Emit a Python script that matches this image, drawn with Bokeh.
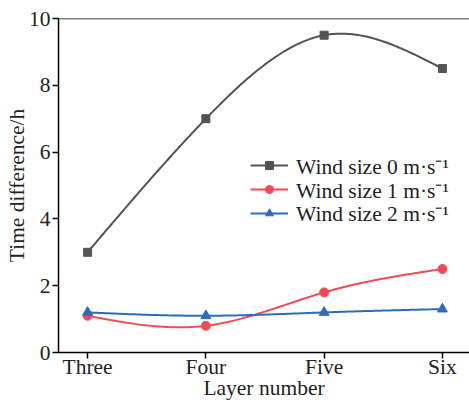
import numpy as np
from bokeh.plotting import figure
from bokeh.models import FixedTicker, Span, Legend, LegendItem
from bokeh.embed import file_html
from bokeh.resources import INLINE

categories = ["Three", "Four", "Five", "Six"]
wind0 = [3.0, 7.0, 9.5, 8.5]
wind1 = [1.1, 0.8, 1.8, 2.5]
wind2 = [1.2, 1.1, 1.2, 1.3]
labels = ["Wind size 0 m\u00b7s\u207b\u00b9", "Wind size 1 m\u00b7s\u207b\u00b9", "Wind size 2 m\u00b7s\u207b\u00b9"]
colors = ["#535353", "#EF4A55", "#2D6DB7"]
markers = ["square", "circle", "triangle"]
marker_sizes = [8, 9, 10]

FONT = "Liberation Serif"
FS = "21.5px"


def natural_spline(x, y, n=60):
    x = np.asarray(x, float)
    y = np.asarray(y, float)
    k = len(x)
    h = np.diff(x)
    A = np.zeros((k, k))
    b = np.zeros(k)
    A[0, 0] = 1
    A[-1, -1] = 1
    for i in range(1, k - 1):
        A[i, i - 1] = h[i - 1]
        A[i, i] = 2 * (h[i - 1] + h[i])
        A[i, i + 1] = h[i]
        b[i] = 3 * ((y[i + 1] - y[i]) / h[i] - (y[i] - y[i - 1]) / h[i - 1])
    c = np.linalg.solve(A, b)
    xs, ys = [], []
    for i in range(k - 1):
        bb = (y[i + 1] - y[i]) / h[i] - h[i] * (2 * c[i] + c[i + 1]) / 3
        d = (c[i + 1] - c[i]) / (3 * h[i])
        t = np.linspace(0, h[i], n, endpoint=(i == k - 2))
        xs.extend(x[i] + t)
        ys.extend(y[i] + bb * t + c[i] * t ** 2 + d * t ** 3)
    return np.array(xs), np.array(ys)


xpos = list(range(len(categories)))

p = figure(width=469, height=403, output_backend="svg", toolbar_location=None,
           x_range=(-0.246, 3.229), y_range=(0, 10),
           min_border_left=58, min_border_right=0, min_border_top=18, min_border_bottom=51)
p.outline_line_color = None
p.xgrid.visible = False
p.ygrid.visible = False
p.background_fill_color = "white"
p.border_fill_color = "white"

items = []
for vals, col, mk, ms, lab in zip([wind0, wind1, wind2], colors, markers, marker_sizes, labels):
    sx, sy = natural_spline(xpos, vals)
    r1 = p.line(sx, sy, line_color=col, line_width=2)
    r2 = p.scatter(xpos, vals, marker=mk, size=ms, fill_color=col, line_color=col)
    items.append(LegendItem(label=lab, renderers=[r1, r2]))

p.add_layout(Span(location=10, dimension="width", line_color="black", line_width=1.5))

for ax in (p.xaxis[0], p.yaxis[0]):
    ax.axis_line_color = "black"
    ax.axis_line_width = 1.5
    ax.major_tick_line_color = "black"
    ax.major_tick_line_width = 1.5
    ax.major_tick_out = 6
    ax.major_tick_in = 0
    ax.minor_tick_line_color = None
    ax.major_label_text_font = FONT
    ax.major_label_text_font_size = FS
    ax.major_label_text_color = "#222222"
    ax.axis_label_text_font = FONT
    ax.axis_label_text_font_size = FS
    ax.axis_label_text_font_style = "normal"
    ax.axis_label_text_color = "#222222"

p.xaxis.ticker = FixedTicker(ticks=xpos)
p.xaxis.major_label_overrides = {i: c for i, c in enumerate(categories)}
p.xaxis.axis_label = "Layer number"
p.xaxis.axis_label_standoff = -6
p.xaxis.major_label_standoff = -4
p.yaxis.ticker = FixedTicker(ticks=[0, 2, 4, 6, 8, 10])
p.yaxis.axis_label = "Time difference/h"
p.yaxis.axis_label_standoff = -3
p.yaxis.major_label_standoff = 2

# one single-item legend per series, so the rows can sit closer than the text height
row_bottoms = [172.5, 148.5, 125]
for item, vy in zip(items, row_bottoms):
    lg = Legend(items=[item], location=(192, vy), glyph_width=38, glyph_height=20,
                label_height=20, spacing=0, padding=0, margin=0, label_standoff=8,
                label_text_font=FONT, label_text_font_size=FS, label_text_color="#222222",
                border_line_color=None, background_fill_alpha=0)
    p.add_layout(lg)

open("out.html", "w").write(file_html(p, INLINE))
